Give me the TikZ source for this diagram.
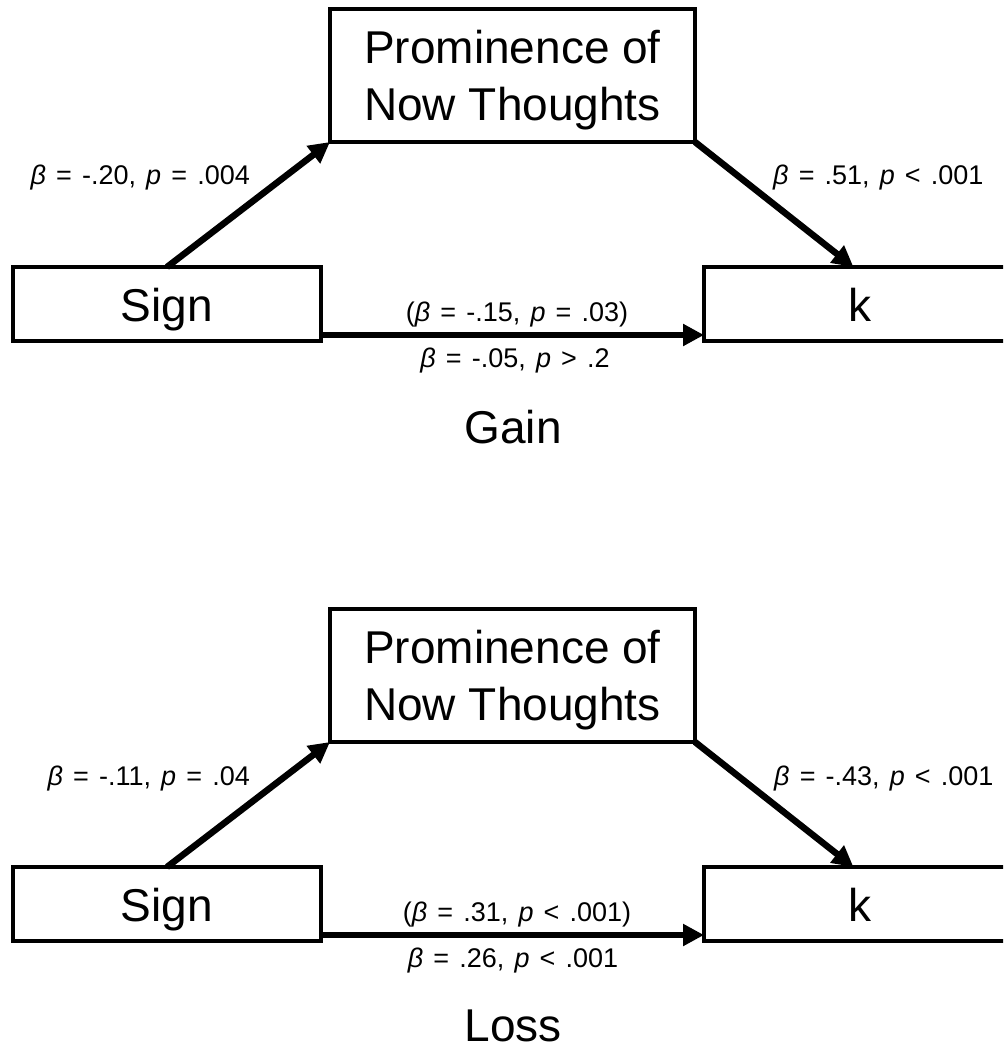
\documentclass[tikz,border=0pt]{standalone}
\usepackage{fontspec}
\setmainfont{Liberation Sans}
\newfontfamily\labfont[WordSpace=1.35]{Liberation Sans}
\usetikzlibrary{arrows.meta}
\tikzset{
  varbox/.style={draw=black, line width=4pt, fill=white, inner sep=0pt, outer sep=0pt,
    font=\fontsize{46}{57}\selectfont, align=center},
  onebox/.style={varbox, minimum height=74pt, text height=35pt, text depth=0pt},
  twobox/.style={varbox, minimum width=365pt, minimum height=133pt, text depth=0pt},
  patharrow/.style={line width=6.5pt, -{Triangle[length=21pt,width=21pt]}},
  coef/.style={inner sep=0pt, font=\labfont\fontsize{27}{32}\selectfont},
  title/.style={inner sep=0pt, font=\fontsize{46}{55}\selectfont}
}
\newcommand{\bt}{\textit{β}}
\newcommand{\pp}{\textit{p}}
\begin{document}
\begin{tikzpicture}[x=1pt,y=-1pt]
\useasboundingbox (0,0) rectangle (1003,1048);
\clip (0,0) rectangle (1003,1048);
% ---- Gain panel ----
\node[twobox] (prom1) at (512.5,75.5) {Prominence of\\Now Thoughts};
\node[onebox, minimum width=308pt] (sign1) at (167,304) {Sign};
\node[onebox, minimum width=311pt] (k1) at (859.5,304) {k};
\draw[patharrow] (sign1.north) -- (prom1.south west);
\draw[patharrow] (prom1.south east) -- ([xshift=-6pt]k1.north);
\draw[patharrow] ([yshift=6pt]sign1.south east) -- ([yshift=6pt]k1.south west);
\node[coef, anchor=base east] (l1a) at (250,185) {\bt{} = -.20, \pp{} = .004};
\node[coef, anchor=base west] (l1b) at (773,185) {\bt{} = .51, \pp{} < .001};
\node[coef, anchor=base] (l1c) at (517,321) {(\bt{} = -.15, \pp{} = .03)};
\node[coef, anchor=base] (l1d) at (515,367) {\bt{} = -.05, \pp{} > .2};
\node[title, anchor=base] (gain) at (513,443) {Gain};
% ---- Loss panel ----
\node[twobox] (prom2) at (512.5,675.5) {Prominence of\\Now Thoughts};
\node[onebox, minimum width=308pt] (sign2) at (167,904) {Sign};
\node[onebox, minimum width=311pt] (k2) at (859.5,904) {k};
\draw[patharrow] (sign2.north) -- (prom2.south west);
\draw[patharrow] (prom2.south east) -- ([xshift=-6pt]k2.north);
\draw[patharrow] ([yshift=6pt]sign2.south east) -- ([yshift=6pt]k2.south west);
\node[coef, anchor=base east] (l2a) at (250,785) {\bt{} = -.11, \pp{} = .04};
\node[coef, anchor=base west] (l2b) at (774,785) {\bt{} = -.43, \pp{} < .001};
\node[coef, anchor=base] (l2c) at (517,921) {(\bt{} = .31, \pp{} < .001)};
\node[coef, anchor=base] (l2d) at (513,967) {\bt{} = .26, \pp{} < .001};
\node[title, anchor=base] (loss) at (513,1041) {Loss};
\end{tikzpicture}
\end{document}
